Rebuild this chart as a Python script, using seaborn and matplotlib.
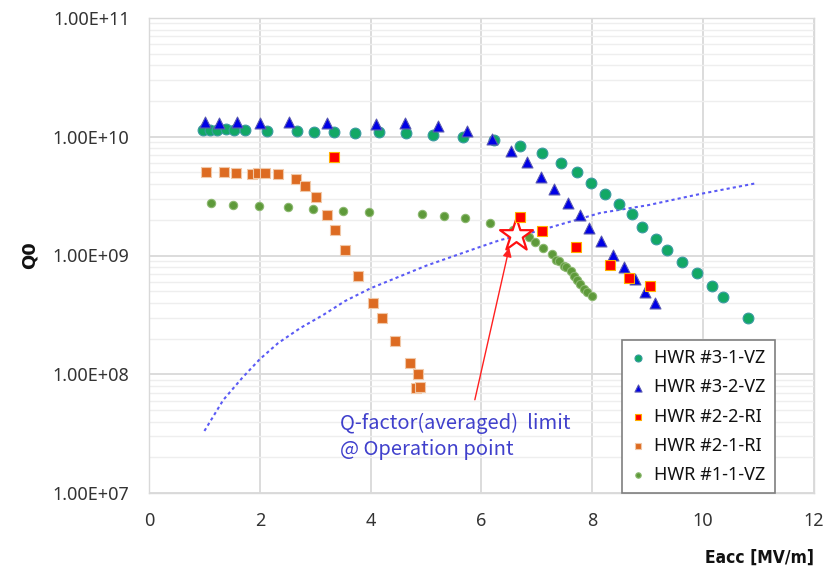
import numpy as np
import pandas as pd
import matplotlib
matplotlib.use("Agg")
import matplotlib.pyplot as plt
import seaborn as sns
from matplotlib.ticker import FuncFormatter, LogLocator, NullFormatter, MultipleLocator

# ---------------- data ----------------
hwr31_x = [0.97, 1.10, 1.23, 1.39, 1.53, 1.73, 2.13, 2.67, 2.98, 3.34, 3.72, 4.15,
           4.64, 5.13, 5.67, 6.23, 6.70, 7.09, 7.44, 7.73, 7.98, 8.23, 8.48,
           8.72, 8.90, 9.15, 9.35, 9.62, 9.89, 10.16, 10.36, 10.81]
hwr31_q = [1.14e10, 1.14e10, 1.14e10, 1.16e10, 1.14e10, 1.14e10, 1.12e10, 1.12e10, 1.10e10, 1.10e10, 1.08e10, 1.10e10,
           1.08e10, 1.03e10, 1.0e10, 9.4e9, 8.4e9, 7.3e9, 6.0e9, 5.05e9, 4.08e9, 3.3e9, 2.72e9,
           2.24e9, 1.74e9, 1.38e9, 1.11e9, 8.8e8, 7.1e8, 5.54e8, 4.47e8, 2.98e8]

hwr32_x = [1.01, 1.26, 1.59, 2.0, 2.53, 3.21, 4.10,
           4.62, 5.22, 5.74, 6.19, 6.53, 6.82, 7.08, 7.31, 7.56, 7.78,
           7.94, 8.16, 8.38, 8.57, 8.77, 8.95, 9.13]
hwr32_q = [1.33e10, 1.30e10, 1.33e10, 1.30e10, 1.33e10, 1.30e10, 1.28e10,
           1.30e10, 1.23e10, 1.12e10, 9.6e9, 7.6e9, 6.1e9, 4.6e9, 3.6e9, 2.76e9, 2.2e9,
           1.71e9, 1.33e9, 1.01e9, 8.0e8, 6.3e8, 4.93e8, 3.98e8]

hwr22_x = [3.34, 6.70, 7.09, 7.71, 8.32, 8.66, 9.04]
hwr22_q = [6.75e9, 2.11e9, 1.61e9, 1.18e9, 8.3e8, 6.5e8, 5.5e8]

hwr21_x = [1.03, 1.35, 1.57, 1.86, 1.97, 2.09, 2.33, 2.65, 2.82, 3.01, 3.21, 3.36, 3.54,
           3.77, 4.04, 4.21, 4.44, 4.71, 4.86, 4.82, 4.89]
hwr21_q = [5.05e9, 5.05e9, 4.95e9, 4.86e9, 4.95e9, 4.95e9, 4.86e9, 4.4e9, 3.85e9, 3.11e9, 2.19e9, 1.64e9, 1.11e9,
           6.7e8, 3.98e8, 2.98e8, 1.91e8, 1.24e8, 1.0e8, 7.66e7, 7.8e7]

hwr11_x = [1.12, 1.52, 1.99, 2.51, 2.96, 3.50, 3.97, 4.93, 5.32, 5.70, 6.16, 6.57, 6.86, 6.97,
           7.11, 7.27, 7.35, 7.40, 7.49, 7.53, 7.62, 7.67, 7.73, 7.78, 7.85, 7.91, 8.0]
hwr11_q = [2.77e9, 2.66e9, 2.61e9, 2.56e9, 2.46e9, 2.37e9, 2.32e9, 2.24e9, 2.15e9, 2.07e9, 1.88e9, 1.64e9, 1.43e9, 1.3e9,
           1.16e9, 1.03e9, 9.2e8, 9.0e8, 8.2e8, 8.0e8, 7.4e8, 6.7e8, 6.2e8, 5.75e8, 5.2e8, 4.9e8, 4.56e8]

limit_x = [1.0, 1.34, 1.68, 2.0, 2.33, 2.73, 3.14, 3.54, 4.0, 5.0, 5.97, 6.34, 7.0, 8.14, 9.0, 9.95, 10.97]
limit_q = [3.33e7, 6.07e7, 9.3e7, 1.34e8, 1.83e8, 2.45e8, 3.15e8, 4.14e8, 5.3e8, 8.2e8, 1.18e9, 1.35e9,
           1.6e9, 2.28e9, 2.65e9, 3.3e9, 4.07e9]

op_point_x = [6.62]
op_point_q = [1.49e9]

annot_text = "Q-factor(averaged)  limit\n@ Operation point"
x_ticks = [0, 2, 4, 6, 8, 10, 12]
x_label = "Eacc [MV/m]"
y_label = "Q0"

# ---------------- plot ----------------
sns.set_theme(style="white")
plt.rcParams['font.family'] = ['Noto Sans', 'DejaVu Sans']

fig = plt.figure(figsize=(8.36, 5.81), dpi=100)
ax = fig.add_axes([149/836, 88/581, 665/836, 475/581])

ax.set_yscale('log')
ax.set_xlim(0, 12)
ax.set_ylim(1e7, 1e11)

# grid
ax.yaxis.set_minor_locator(LogLocator(base=10, subs=np.arange(2, 10)))
ax.yaxis.set_minor_formatter(NullFormatter())
ax.xaxis.set_major_locator(MultipleLocator(2))
ax.grid(True, which='major', axis='both', color='#d9d9d9', lw=1.3, zorder=0)
ax.grid(True, which='minor', axis='y', color='#eeeeee', lw=1.0, zorder=0)
ax.set_axisbelow(True)

# dotted limit curve
sns.lineplot(x=limit_x, y=limit_q, ax=ax, color='#5a5af5', lw=1.5,
             linestyle=(0, (1.5, 1.5)), zorder=2, legend=False)

series = [
    ("HWR #3-1-VZ", hwr31_x, hwr31_q, 'o', '#12a865', '#3a9aa0', 60),
    ("HWR #3-2-VZ", hwr32_x, hwr32_q, '^', '#0000e6', '#5a5ab0', 62),
    ("HWR #2-2-RI", hwr22_x, hwr22_q, 's', '#ff0000', '#ffb000', 55),
    ("HWR #2-1-RI", hwr21_x, hwr21_q, 's', '#dd6b22', '#f0c8a8', 42),
    ("HWR #1-1-VZ", hwr11_x, hwr11_q, 'o', '#5e9a3a', '#8cb870', 36),
]
zorders = [3, 3, 5, 3, 3]
for (lab, xs, qs, mk, fc, ec, s), zo in zip(series, zorders):
    sns.scatterplot(x=xs, y=qs, ax=ax, marker=mk, color=fc, edgecolor=ec,
                    linewidth=0.8, s=s, label=lab, zorder=zo)

# annotation arrow + star
ax.annotate('', xy=(6.5, 1.16e9), xytext=(5.88, 6.1e7),
            arrowprops=dict(arrowstyle='-|>', color='#ff2020', lw=1.0,
                            mutation_scale=13, shrinkA=0, shrinkB=0), zorder=4)
ax.scatter(op_point_x, op_point_q, marker='*', s=620, facecolor='white',
           edgecolor='#ff1010', linewidth=1.6, zorder=4)

ax.text(3.45, 4.7e7, annot_text, color='#4040cc', fontsize=14.5,
        family=['Noto Sans CJK KR', 'DejaVu Sans'], va='top', ha='left',
        linespacing=1.3, zorder=6)

# axes formatting
ax.set_xticks(x_ticks)
ax.yaxis.set_major_formatter(FuncFormatter(lambda v, p: f"{v:.2E}"))
ax.tick_params(axis='both', which='both', length=0, labelsize=13, colors='#333333', pad=14)
for sp in ax.spines.values():
    sp.set_color('#d9d9d9')
    sp.set_linewidth(1.0)

ax.set_xlabel(x_label, fontsize=12.5, fontweight='bold', loc='right', labelpad=13,
              color='#111111', family=['DejaVu Sans'], fontstretch='condensed')
ax.set_ylabel(y_label, fontsize=13, fontweight='bold', labelpad=10,
              color='#111111', family=['DejaVu Sans'])

leg = ax.legend(loc='lower right', bbox_to_anchor=(0.941, 0.0), fontsize=13,
                frameon=True, fancybox=False, edgecolor='#7f7f7f', framealpha=1,
                markerscale=0.65, handlelength=0.8, handletextpad=0.5,
                labelspacing=0.62, borderpad=0.5, borderaxespad=0)
leg.get_frame().set_linewidth(1.2)
for t in leg.get_texts():
    t.set_color('#111111')

fig.savefig("out.png", dpi=100, facecolor='white')
